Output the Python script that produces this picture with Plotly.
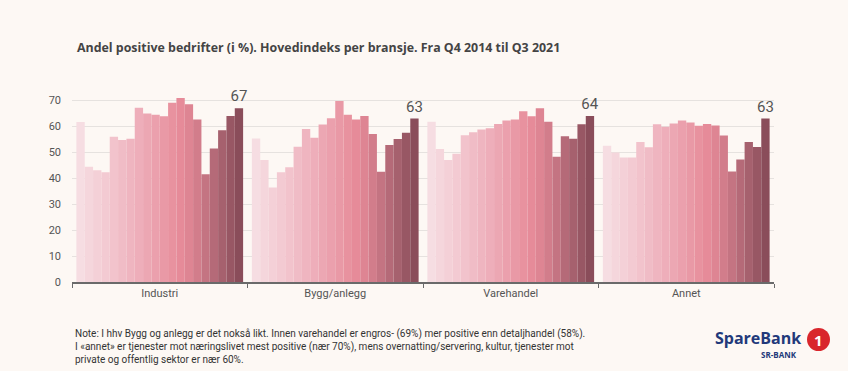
import plotly.graph_objects as go

categories = ["Industri", "Bygg/anlegg", "Varehandel", "Annet"]

industri = [61.7, 44.4, 43.1, 42.3, 56.0, 54.7, 55.2, 67.2, 64.9, 64.5,
            63.9, 69.1, 70.9, 68.5, 62.6, 41.5, 51.5, 58.5, 64.0, 67.0]
bygg = [55.3, 47.0, 36.4, 42.3, 44.2, 52.1, 59.0, 55.6, 60.7, 63.1,
        69.8, 64.5, 62.6, 64.0, 57.0, 42.5, 52.8, 55.1, 57.5, 63.0]
varehandel = [61.8, 51.3, 47.0, 49.4, 56.6, 57.7, 58.8, 59.3, 60.9, 62.2,
              62.6, 65.8, 63.9, 67.0, 61.8, 48.3, 56.2, 55.2, 60.8, 64.0]
annet = [52.5, 49.9, 48.0, 48.0, 54.0, 51.9, 60.8, 59.8, 61.1, 62.2,
         61.5, 60.2, 60.9, 60.3, 56.5, 42.6, 47.2, 54.0, 52.0, 63.0]

y_ticks = [0, 10, 20, 30, 40, 50, 60, 70]

bar_colors = ["#f6dde2", "#f5d6dc", "#f4d0d7", "#f3cad2", "#f2c3cc",
              "#f0bcc6", "#efb5c0", "#eeaeba", "#eca7b3", "#eba0ad",
              "#e999a6", "#e8929f", "#e68b99", "#de8593", "#d27d8b",
              "#c47482", "#b56a78", "#a6616e", "#985764", "#8a4d5a"]

series = [industri, bygg, varehandel, annet]
n_periods = len(industri)

fig = go.Figure()
for j in range(n_periods):
    vals = [s[j] for s in series]
    last = (j == n_periods - 1)
    fig.add_trace(go.Bar(
        x=categories, y=vals, name=f"Periode {j+1}",
        marker=dict(color=bar_colors[j], line=dict(width=0)),
        text=[f"{v:.0f}" for v in vals] if last else None,
        textposition="outside" if last else "none",
        textfont=dict(size=15, color="#555555", family="Roboto"),
        cliponaxis=False,
        constraintext="none",
        hoverinfo="y",
    ))

bg = "#fdf8f4"
W, H = 848, 371
ML, MR, MT, MB = 72, 74, 90, 89
fig.update_layout(
    width=W, height=H,
    paper_bgcolor=bg, plot_bgcolor=bg,
    barmode="group", bargap=0.05, bargroupgap=0,
    showlegend=False,
    margin=dict(l=ML, r=MR, t=MT, b=MB),
    font=dict(family="Roboto", color="#555555"),
    xaxis=dict(
        showline=True, linecolor="#6a6a6a", linewidth=1.5,
        ticks="outside", tickson="boundaries", ticklen=4, tickcolor="#6a6a6a",
        tickfont=dict(size=11, color="#555555"),
        showgrid=False,
    ),
    yaxis=dict(
        range=[0, 74], tickvals=y_ticks,
        showgrid=True, gridcolor="#e6e2df", gridwidth=1,
        zeroline=False, showline=False,
        tickfont=dict(size=11, color="#555555"),
        ticklabelstandoff=10,
    ),
)


def py(ypix):
    h = H - MT - MB
    return (H - MB - ypix) / h


def px(xpix):
    return (xpix - ML) / (W - ML - MR)


fig.add_annotation(
    text="<b>Andel positive bedrifter (i %). Hovedindeks per bransje. Fra Q4 2014 til Q3 2021</b>",
    xref="paper", yref="paper", x=px(75), y=py(47), xanchor="left", yanchor="middle",
    showarrow=False, font=dict(size=12.4, color="#444444", family="Open Sans"),
)

note = ("Note: I hhv Bygg og anlegg er det nokså likt. Innen varehandel er engros- (69%) mer positive enn detaljhandel (58%).<br>"
        "I «annet» er tjenester mot næringslivet mest positive (nær 70%), mens overnatting/servering, kultur, tjenester mot<br>"
        "private og offentlig sektor er nær 60%.")
fig.add_annotation(
    text=note, xref="paper", yref="paper", x=px(73), y=py(326),
    xanchor="left", yanchor="top", align="left", showarrow=False,
    font=dict(size=10, color="#333333", family="Roboto"),
)

# Logo
fig.add_annotation(
    text="<b>SpareBank</b>", xref="paper", yref="paper", x=px(803), y=py(338),
    xanchor="right", yanchor="middle", showarrow=False,
    font=dict(size=16, color="#22397a", family="Open Sans"),
)
fig.add_annotation(
    text="<b>SR-BANK</b>", xref="paper", yref="paper", x=px(799), y=py(354),
    xanchor="right", yanchor="middle", showarrow=False,
    font=dict(size=8, color="#22397a", family="Open Sans"),
)
fig.add_shape(type="circle", xref="paper", yref="paper",
              x0=px(807), x1=px(830), y0=py(351), y1=py(328),
              fillcolor="#d9262c", line=dict(color="#d9262c", width=0))
fig.add_annotation(
    text="<b>1</b>", xref="paper", yref="paper", x=px(818.5), y=py(339.5),
    xanchor="center", yanchor="middle", showarrow=False,
    font=dict(size=15, color="white", family="Open Sans"),
)

fig.write_html("out.html",
               config={"displayModeBar": False},
               post_script="document.body.style.margin='0';document.body.style.background='#fdf8f4';")
